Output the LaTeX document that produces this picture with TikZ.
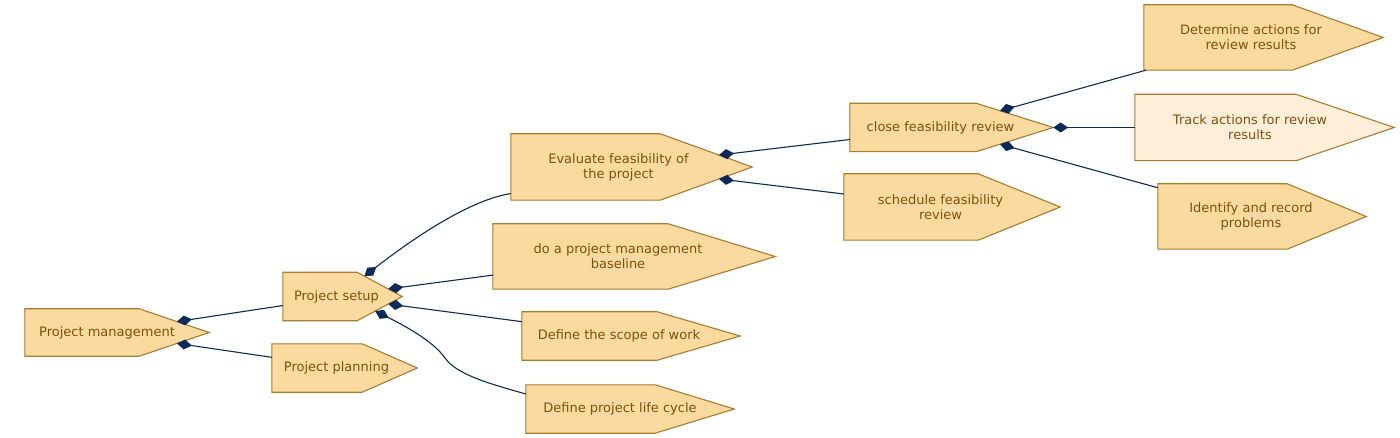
\documentclass[tikz,border=0pt]{standalone}
\usepackage{fontspec}
\setmainfont{DejaVu Sans}
\usepackage{tikz}
\usetikzlibrary{arrows.meta,calc}
\definecolor{taskfill}{HTML}{FADA9F}
\definecolor{tasklight}{HTML}{FFEFD9}
\definecolor{taskedge}{HTML}{A97B2C}
\definecolor{tasktext}{HTML}{7A5210}
\definecolor{linknavy}{HTML}{0B2A58}

% task shape: name, x, y, width, height, point depth, text shift, fill, text
\newcommand{\tasknode}[9]{%
  \node[taskbox, minimum width=#4, minimum height=#5] (#1) at (#2,#3) {};
  \coordinate (#1-u) at ([xshift=-#6]#1.north east);
  \coordinate (#1-l) at ([xshift=-#6]#1.south east);
  \filldraw[taskshape, fill=#8] (#1.north west) -- (#1-u) -- (#1.east) -- (#1-l) -- (#1.south west) -- cycle;
  \node[tasklabel] at ([xshift=#7]#1.center) {#9};
}

\begin{document}
\begin{tikzpicture}[x=1pt, y=-1pt,
    taskbox/.style={inner sep=0pt, draw=none},
    taskshape/.style={draw=taskedge, line width=1.1pt, line join=miter},
    tasklabel/.style={text=tasktext, align=center, font=\fontsize{13pt}{15pt}\selectfont},
    link/.style={draw=linknavy, line width=1.1pt, {Diamond[length=15pt, width=10pt]}-}]

  \useasboundingbox (0,0) rectangle (1400,438);

  % Tasks
  \tasknode{pm}{117}{332.5}{184}{47}{70}{-10}{taskfill}{Project management}
  \tasknode{plan}{344.5}{368}{145}{48}{55}{-8}{taskfill}{Project planning}
  \tasknode{setup}{342.5}{296.5}{119}{48}{45}{-6}{taskfill}{Project setup}
  \tasknode{eval}{631.5}{167}{241}{66}{92}{-13}{taskfill}{Evaluate feasibility of\\the project}
  \tasknode{base}{634}{256.5}{282}{65}{107}{-16}{taskfill}{do a project management\\baseline}
  \tasknode{scope}{631}{336}{218}{48}{83}{-12}{taskfill}{Define the scope of work}
  \tasknode{life}{630}{409}{208}{48}{79}{-10}{taskfill}{Define project life cycle}
  \tasknode{close}{951.5}{127.5}{203}{48}{77}{-11}{taskfill}{close feasibility review}
  \tasknode{sched}{952}{207}{216}{66}{82}{-11.5}{taskfill}{schedule feasibility\\review}
  \tasknode{determ}{1263.5}{37.5}{239}{65}{91}{-12.5}{taskfill}{Determine actions for\\review results}
  \tasknode{track}{1264.5}{127.5}{259}{66}{98}{-14.5}{tasklight}{Track actions for review\\results}
  \tasknode{ident}{1262}{216.5}{208}{65}{79}{-11}{taskfill}{Identify and record\\problems}

  % Straight links: parent / slant side / place on slant / child
  \foreach \pa/\side/\pos/\ch in {pm/u/0.54/setup, pm/l/0.54/plan, setup/u/0.69/base, setup/l/0.69/scope, eval/u/0.64/close, eval/l/0.64/sched, close/u/0.31/determ, close/u/1/track, close/l/0.31/ident} {
    \draw[link] ($(\pa-\side)!\pos!(\pa.east)$) -- (\ch);
  }

  % Curved links out of Project setup
  \draw[link] ($(setup-u)!0.16!(setup.east)$) .. controls +(40,-31) and +(-45,7) .. ($(eval.south west)!0.1!(eval.north west)$);
  \coordinate (lifebend) at (445,358);
  \draw[link] ($(setup-l)!0.4!(setup.east)$) .. controls +(30,15) and +(-12,-17) .. (lifebend)
    .. controls +(12,17) and +(-35,-10) .. ($(life.north west)!0.19!(life.south west)$);

\end{tikzpicture}
\end{document}
